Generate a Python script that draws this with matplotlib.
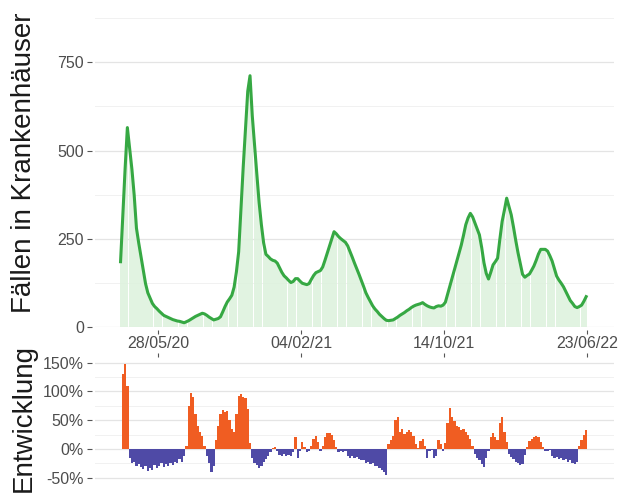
import numpy as np
import pandas as pd
import matplotlib
matplotlib.use('Agg')
import matplotlib.pyplot as plt
import matplotlib.dates as mdates
from matplotlib.ticker import FixedLocator, FuncFormatter

plt.rcParams['font.family'] = ['Liberation Sans', 'DejaVu Sans']

# Fälle in Krankenhäusern (geglättet), alle 4 Tage ab 23.03.2020
cases = [
    185, 316, 448, 565, 505, 447, 374, 280, 238, 200, 161, 123, 97, 82, 67, 58,
    52, 45, 39, 33, 30, 27, 24, 21, 19, 17, 16, 14, 12, 15, 18, 22,
    26, 30, 33, 36, 39, 37, 33, 28, 24, 20, 22, 24, 29, 43, 58, 71,
    80, 90, 113, 156, 213, 333, 453, 560, 668, 712, 598, 514, 433, 353, 290, 238,
    206, 200, 193, 189, 187, 181, 168, 155, 145, 139, 132, 126, 129, 137, 137, 130,
    124, 122, 120, 123, 135, 146, 154, 157, 160, 170, 189, 209, 229, 248, 270, 264,
    256, 250, 245, 240, 230, 214, 198, 181, 165, 149, 132, 115, 97, 84, 72, 60,
    51, 44, 36, 30, 24, 19, 18, 19, 20, 24, 28, 33, 37, 41, 46, 50,
    55, 59, 62, 64, 66, 69, 64, 60, 57, 55, 54, 58, 60, 59, 62, 70,
    93, 116, 140, 163, 186, 209, 232, 260, 290, 309, 322, 312, 295, 278, 261, 225,
    182, 152, 136, 155, 176, 185, 195, 249, 299, 331, 365, 341, 318, 283, 245, 210,
    180, 149, 141, 146, 150, 161, 173, 189, 207, 220, 220, 220, 215, 202, 187, 165,
    144, 133, 124, 114, 101, 88, 75, 67, 58, 55, 58, 62, 73, 86,
]

# Entwicklung in Prozent, gleiche Zeitpunkte
change_pct = [
    0, 130, 148, 110, -15, -25, -22, -30, -27, -32, -35, -30, -38, -33, -36, -28,
    -33, -30, -25, -31, -26, -29, -24, -28, -22, -25, -18, -23, -12, 5, 75, 97,
    90, 60, 40, 30, 22, 5, -12, -25, -40, -30, 15, 40, 60, 68, 64, 66,
    50, 35, 30, 60, 92, 95, 90, 88, 70, 10, -15, -25, -28, -33, -30, -22,
    -18, -12, -6, 2, 3, -3, -10, -12, -8, -13, -10, -12, -5, 20, -15, -3,
    12, 3, -6, -4, 5, 18, 22, 12, -3, 5, 20, 27, 28, 24, 15, 3,
    -5, -4, -6, -3, -12, -15, -13, -16, -14, -18, -20, -19, -24, -22, -27, -25,
    -30, -29, -33, -37, -40, -45, 8, 15, 22, 50, 56, 30, 34, 26, 30, 33,
    30, 22, 8, 2, 14, 18, 5, -16, -3, -2, -15, -12, 15, 8, -3, 10,
    45, 72, 55, 48, 40, 38, 33, 35, 30, 24, 18, 5, -8, -15, -20, -27,
    -32, -15, -3, 20, 28, 20, 15, 45, 55, 30, 12, -8, -14, -18, -22, -25,
    -28, -26, -10, 3, 14, 17, 20, 22, 20, 12, 4, -3, -4, -2, -12, -16,
    -14, -18, -15, -20, -17, -22, -20, -25, -27, -22, 5, 15, 25, 33,
]

dates = pd.date_range('2020-03-23', periods=len(cases), freq='4D')
tick_dates = pd.to_datetime(['2020-05-28', '2021-02-04', '2021-10-14', '2022-06-23'])
x_range = pd.to_datetime(['2020-02-07', '2022-08-09'])

line_green = '#36a843'
bar_green = '#dcf1dc'
pos_col = '#f05d22'
neg_col = '#4f4aa6'
grid_major = '#e4e4e4'
grid_minor = '#f1f1f1'
tick_col = '#555555'

fig = plt.figure(figsize=(6.24, 4.94), dpi=100)
W, H = 624, 494
ax_top = fig.add_axes([95 / W, 1 - 327 / H, 519 / W, 324 / H])
ax_bot = fig.add_axes([95 / W, 0, 519 / W, 137 / H])

# oberes Panel
ax_top.bar(dates, cases, width=3.7, color=bar_green, alpha=0.85, linewidth=0, zorder=2)
ax_top.plot(dates, cases, color=line_green, lw=2.2, zorder=3, solid_joinstyle='round')
ax_top.set_ylim(0, 918)
ax_top.yaxis.set_major_locator(FixedLocator([0, 250, 500, 750]))
ax_top.yaxis.set_minor_locator(FixedLocator([125, 375, 625, 875]))

# unteres Panel
chg = np.array(change_pct) / 100
colors = [pos_col if v >= 0 else neg_col for v in chg]
ax_bot.bar(dates, chg, width=4.0, color=colors, linewidth=0, zorder=2)
ax_bot.set_ylim(-0.785, 1.60)
ax_bot.yaxis.set_major_locator(FixedLocator([-0.5, 0, 0.5, 1.0, 1.5]))
ax_bot.yaxis.set_minor_locator(FixedLocator([-0.25, 0.25, 0.75, 1.25]))
ax_bot.yaxis.set_major_formatter(FuncFormatter(lambda v, p: f'{v * 100:.0f}%'))

for ax in (ax_top, ax_bot):
    ax.set_xlim(x_range[0], x_range[1])
    ax.xaxis.set_major_locator(FixedLocator(mdates.date2num(tick_dates)))
    ax.xaxis.set_major_formatter(mdates.DateFormatter('%d/%m/%y'))
    ax.grid(axis='y', which='major', color=grid_major, lw=0.9, zorder=0)
    ax.grid(axis='y', which='minor', color=grid_minor, lw=0.7, zorder=0)
    ax.grid(axis='x', visible=False)
    for s in ax.spines.values():
        s.set_visible(False)
    ax.spines['left'].set_position(('outward', 2.5))
    ax.tick_params(axis='y', which='major', length=3.5, width=0.8, color=tick_col,
                   labelsize=11.5, labelcolor='#4d4d4d', pad=2)
    ax.tick_params(axis='y', which='minor', length=0)
    ax.set_axisbelow(True)

ax_top.spines['bottom'].set_position(('outward', 2))
ax_top.tick_params(axis='x', length=3, width=0.8, color=tick_col, labelsize=11.5,
                   labelcolor='#4d4d4d', pad=1.5)
ax_bot.tick_params(axis='x', bottom=False, labelbottom=False, top=True, length=3,
                   width=0.8, color=tick_col)

fig.text(0.038, 1 - 163 / H, 'Fällen in Krankenhäuser', rotation=90,
         ha='center', va='center', fontsize=20, color='#1a1a1a')
fig.text(0.038, 1 - 418 / H, 'Entwicklung', rotation=90,
         ha='center', va='center', fontsize=20, color='#1a1a1a')

fig.savefig('out.png', dpi=100)
